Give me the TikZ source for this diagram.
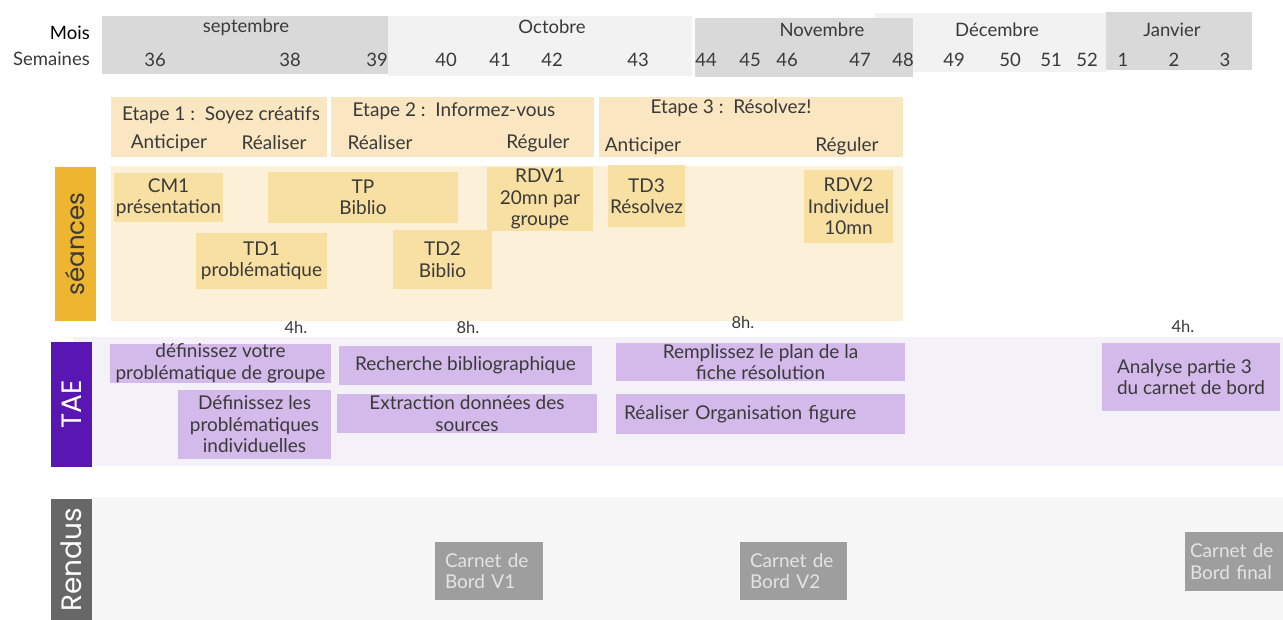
\documentclass[tikz,border=0pt]{standalone}
\usepackage{fontspec}
\setmainfont{Lato}
\newfontfamily\geo{Poppins}
\definecolor{hdrdark}{HTML}{D9D9D9}
\definecolor{hdrlight}{HTML}{F2F2F2}
\definecolor{txt}{HTML}{3A3A3A}
\definecolor{stepbg}{HTML}{FAE7C1}
\definecolor{sbg}{HTML}{FCF0D8}
\definecolor{actbg}{HTML}{F8DFA2}
\definecolor{gold}{HTML}{EDB530}
\definecolor{taebg}{HTML}{F4F1F8}
\definecolor{taebox}{HTML}{D3BAEA}
\definecolor{purple}{HTML}{5A16B3}
\definecolor{rendubg}{HTML}{F7F7F7}
\definecolor{rendubox}{HTML}{9E9E9E}
\definecolor{rendutxt}{HTML}{E4E4E4}
\definecolor{rendulbl}{HTML}{676767}
\newcommand{\hf}{\fontsize{18.5}{21}\selectfont}
\newcommand{\mf}{\fontsize{19}{21.5}\selectfont}
\tikzset{
  base/.style={inner sep=0pt, outer sep=0pt, anchor=north west, align=center, text=txt, font=\mf},
  band/.style={base, fill=#1},
  hdrtext/.style={inner sep=0pt, text=txt, font=\hf},
  lbl/.style={inner sep=0pt, text=txt, font=\mf},
  actbox/.style={base, fill=actbg},
  taeb/.style={base, fill=taebox},
  rbox/.style={base, fill=rendubox, text=rendutxt, align=left},
  vlabel/.style={inner sep=0pt, outer sep=0pt, rotate=90, font=\geo\fontsize{28}{30}\selectfont},
  hours/.style={inner sep=0pt, text=txt, font=\fontsize{16.5}{18}\selectfont},
}
\begin{document}
\begin{tikzpicture}[x=1pt,y=-1pt]
\path[use as bounding box, fill=white] (0,0) rectangle (1283,620);
% ---------- header ----------
\node[band=hdrlight, minimum width=304pt, minimum height=60pt] (oct) at (388,16) {};
\node[band=hdrdark, minimum width=286pt, minimum height=58pt] (sep) at (102,16) {};
\node[band=hdrlight, minimum width=231pt, minimum height=59pt] (dec) at (875,13) {};
\node[band=hdrdark, minimum width=218pt, minimum height=59pt] (nov) at (695,18) {};
\node[band=hdrdark, minimum width=146pt, minimum height=58pt] (jan) at (1106,12) {};
\node[hdrtext, text=black, anchor=east] (mois) at (90,33) {Mois};
\node[hdrtext, anchor=east] (sem) at (90,59) {Semaines};
\node[hdrtext] (msep) at (246,27) {septembre};
\node[hdrtext] (moct) at (552,27) {Octobre};
\node[hdrtext] (mnov) at (822,30) {Novembre};
\node[hdrtext] (mdec) at (997,30) {Décembre};
\node[hdrtext] (mjan) at (1172,30) {Janvier};
\foreach \w/\x in {36/155,38/290,39/377,40/446,41/500,42/552,43/638,44/706,45/750,46/787,47/860,48/903,49/954,50/1010,51/1051,52/1087,1/1123,2/1174,3/1225}
  \node[hdrtext] (w\w) at (\x,60) {\w};
% ---------- steps ----------
\node[band=stepbg, minimum width=216pt, minimum height=60pt] (e1) at (111,97) {};
\node[band=stepbg, minimum width=263pt, minimum height=60pt] (e2) at (331,97) {};
\node[band=stepbg, minimum width=304pt, minimum height=60pt] (e3) at (599,97) {};
\node[lbl] (e1t) at (221,115) {Etape 1 :\ \ Soyez créatifs};
\node[lbl] (e1a) at (169,143) {Anticiper};
\node[lbl] (e1r) at (274,143) {Réaliser};
\node[lbl] (e2t) at (454,111) {Etape 2 :\ \ Informez-vous};
\node[lbl] (e2r) at (380,143) {Réaliser};
\node[lbl] (e2g) at (538,143) {Réguler};
\node[lbl] (e3t) at (731,108) {Etape 3 :\ \ Résolvez!};
\node[lbl] (e3a) at (643,146) {Anticiper};
\node[lbl] (e3g) at (847,146) {Réguler};
% ---------- seances ----------
\node[band=sbg, minimum width=792pt, minimum height=155pt] (sbgnd) at (111,166) {};
\node[vlabel, fill=gold, text=txt, minimum width=154pt, minimum height=41pt, font=\geo\fontsize{24.5}{26}\selectfont] (slbl) at (75,244) {séances};
\node[actbox, minimum width=109pt, minimum height=49pt] (cm1) at (114,173) {CM1\\présentation};
\node[actbox, minimum width=190pt, minimum height=51pt] (tp) at (268,172) {TP\\Biblio};
\node[actbox, minimum width=106pt, minimum height=64pt] (rdv1) at (487,167) {RDV1\\20mn par\\groupe};
\node[actbox, minimum width=131pt, minimum height=56pt] (td1) at (196,233) {TD1\\problématique};
\node[actbox, minimum width=99pt, minimum height=59pt] (td2) at (393,230) {TD2\\Biblio};
\node[actbox, minimum width=77pt, minimum height=62pt] (td3) at (608,165) {TD3\\Résolvez};
\node[actbox, minimum width=89pt, minimum height=73pt] (rdv2) at (804,170) {RDV2\\Individuel\\10mn};
\node[hours] (h1) at (296,327) {4h.};
\node[hours] (h2) at (468,327) {8h.};
\node[hours] (h3) at (743,322) {8h.};
\node[hours] (h4) at (1183,326) {4h.};
% ---------- TAE ----------
\node[band=taebg, minimum width=1210pt, minimum height=129pt] (tbgnd) at (73,337) {};
\node[vlabel, fill=purple, text=white, minimum width=125pt, minimum height=41pt] (tlbl) at (71.5,404.5) {TAE};
\node[taeb, minimum width=221pt, minimum height=38pt] (t1) at (110,344) {définissez votre\\problématique de groupe};
\node[taeb, minimum width=153pt, minimum height=69pt] (t2) at (178,390) {Définissez les\\problématiques\\individuelles};
\node[taeb, minimum width=253pt, minimum height=39pt] (t3) at (339,346) {Recherche bibliographique};
\node[taeb, minimum width=260pt, minimum height=39pt] (t4) at (337,394) {Extraction données des\\sources};
\node[taeb, minimum width=289pt, minimum height=38pt] (t5) at (616,343) {Remplissez le plan de la\\fiche résolution};
\node[taeb, align=left, inner xsep=8pt, text width=273pt, minimum height=40pt] (t6) at (616,394) {Réaliser Organisation figure};
\node[taeb, align=left, minimum width=178pt, minimum height=68pt] (t7) at (1102,343) {Analyse partie 3\\du carnet de bord};
% ---------- Rendus ----------
\node[band=rendubg, minimum width=1191pt, minimum height=123pt] (rbgnd) at (92,497) {};
\node[vlabel, fill=rendulbl, text=white, minimum width=122pt, minimum height=41pt] (rlbl) at (71.5,560) {Rendus};
\node[rbox, align=left, inner xsep=10pt, text width=88pt, minimum height=58pt] (r1) at (435,542) {Carnet de\\Bord V1};
\node[rbox, align=left, inner xsep=10pt, text width=87pt, minimum height=58pt] (r2) at (740,542) {Carnet de\\Bord V2};
\node[rbox, align=left, inner xsep=5pt, text width=88pt, minimum height=59pt] (r3) at (1185,532) {Carnet de\\Bord final};
\end{tikzpicture}
\end{document}
